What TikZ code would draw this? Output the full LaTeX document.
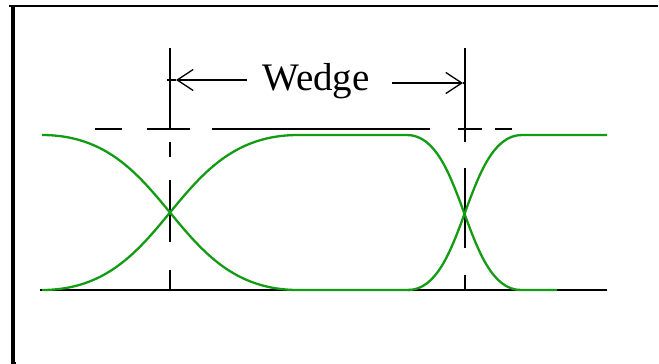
\documentclass[tikz,border=0pt]{standalone}
\usepackage{fontspec}
\setmainfont{Liberation Serif}
\usetikzlibrary{arrows.meta}
\definecolor{curvegreen}{RGB}{20,155,20}
\tikzset{
  frameline/.style={black},
  guide/.style={black, line width=1.8pt},
  signal/.style={curvegreen, line width=2.3pt},
  dimline/.style={black, line width=1.8pt},
  barbtip/.style={-{Straight Barb[length=16pt,width=21pt,line width=1.3pt]}}
}
\begin{document}
\begin{tikzpicture}[x=1pt,y=-1pt]
\useasboundingbox (0,0) rectangle (659,364);
% frame
\draw[frameline, line width=2.2pt] (9,6) -- (658,6);
\draw[frameline, line width=4pt] (13,5) -- (13,364);
\draw[black, line width=1.5pt] (11,363) -- (16,363);
% baseline
\coordinate (b0) at (40,290);
\coordinate (b1) at (607,290);
\draw[guide] (b0) -- (b1);
% top dashed reference line
\draw[guide] (95,129) -- (122,129);
\draw[guide] (147,129) -- (190,129);
\draw[guide] (212,129) -- (430,129);
\draw[guide] (458,129) -- (482,129);
\draw[guide] (495,129) -- (512,129);
% vertical line 1
\draw[guide] (170,48) -- (170,130);
\draw[guide] (170,142) -- (170,157);
\draw[guide] (170,180) -- (170,242);
\draw[guide] (170,270) -- (170,290);
% vertical line 2
\draw[guide] (465,48) -- (465,142);
\draw[guide] (465,168) -- (465,248);
\draw[guide] (465,275) -- (465,290);
% green signals
\draw[signal] (42,135) .. controls (170,135) and (170,290) .. (298,290) -- (410,290);
\draw[signal] (42,290) .. controls (170,290) and (170,135) .. (298,135) -- (407,135)
   .. controls (464,135) and (464,290) .. (521,290) -- (557,290);
\draw[signal] (408,290) .. controls (465,290) and (465,135) .. (522,135) -- (607,135);
% dimension arrows
\node[font=\fontsize{39}{39}\selectfont, anchor=base, inner sep=0pt] (wedge) at (316,90) {Wedge};
\coordinate (la) at (247,80);
\coordinate (lt) at (176,80);
\coordinate (ls) at (167,80);
\coordinate (ra) at (392,83);
\coordinate (rt) at (463,83);
\coordinate (rs) at (466,83);
\draw[dimline, barbtip] (la) -- (lt);
\draw[dimline] (lt) -- (ls);
\draw[dimline, barbtip] (ra) -- (rt);
\draw[dimline] (rt) -- (rs);
\end{tikzpicture}
\end{document}
